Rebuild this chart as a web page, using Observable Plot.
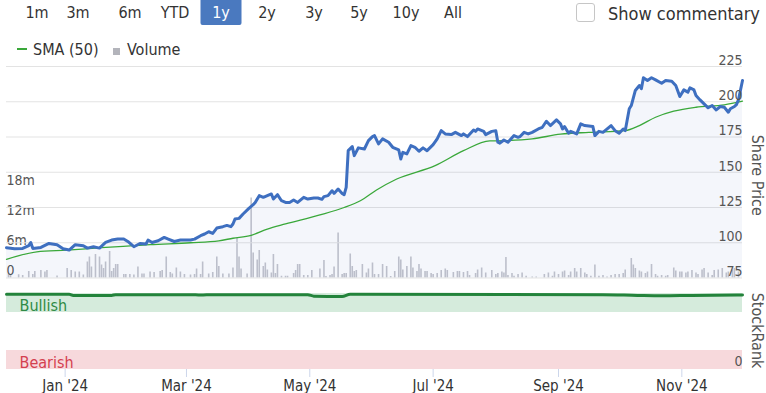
<!DOCTYPE html>
<html><head><meta charset="utf-8">
<script src="https://cdn.jsdelivr.net/npm/d3@7"></script>
<script src="https://cdn.jsdelivr.net/npm/@observablehq/plot@0.6"></script>
<style>
body{margin:0;background:#fff;font-family:"DejaVu Sans Condensed","DejaVu Sans",sans-serif;font-stretch:condensed;}
#wrap{position:relative;width:766px;height:393px;overflow:hidden;}
.btn{position:absolute;top:0;height:25px;line-height:25px;font-size:16px;color:#333;text-align:center;transform:translateX(-50%);white-space:nowrap;}
.btn.sel{background:#4a79bf;color:#fff;width:41px;border-radius:0 0 2px 2px;}
.layer{position:absolute;left:0;}
#chk{position:absolute;left:576px;top:3px;width:19px;height:19px;border:1px solid #c6c6c6;border-radius:3px;box-sizing:border-box;}
#comm{position:absolute;left:608px;top:3px;line-height:22px;font-size:18px;color:#333;white-space:nowrap;}
.leg{position:absolute;top:40px;line-height:20px;font-size:16px;color:#333;white-space:nowrap;}
</style></head><body>
<div id="wrap">
  <div id="buttons"></div>
  <div id="chk"></div>
  <div id="comm"></div>
  <div id="legLine" style="position:absolute;left:17px;top:48px;width:10px;height:2px;background:#3aa83a"></div>
  <div class="leg" id="legSma" style="left:33px"></div>
  <div id="legSq" style="position:absolute;left:113px;top:48px;width:7px;height:7px;background:#b3b4bb"></div>
  <div class="leg" id="legVol" style="left:127px"></div>
  <div class="layer" id="volLayer" style="top:0"></div>
  <div class="layer" id="priceLayer" style="top:0"></div>
  <div class="layer" id="rankLayer" style="top:280px"></div>
</div>
<script>
// ---------- data ----------
const rangeButtons = ["1m","3m","6m","YTD","1y","2y","3y","5y","10y","All"];
const selectedRange = "1y";
const commentaryLabel = "Show commentary";
const smaLabel = "SMA (50)";
const volumeLabel = "Volume";
const priceAxisLabel = "Share Price";
const rankAxisLabel = "StockRank";

const xStart = "2023-12-03", xEnd = "2024-12-01";

const priceDates = ["2023-12-03","2023-12-07","2023-12-11","2023-12-14","2023-12-15","2023-12-16","2023-12-20","2023-12-24","2023-12-28","2023-12-31",
"2024-01-03","2024-01-06","2024-01-10","2024-01-12","2024-01-15","2024-01-18","2024-01-21","2024-01-24","2024-01-27","2024-01-30",
"2024-02-01","2024-02-04","2024-02-07","2024-02-10","2024-02-11","2024-02-13","2024-02-16","2024-02-19","2024-02-21","2024-02-24","2024-02-27",
"2024-03-03","2024-03-05","2024-03-08","2024-03-10","2024-03-12","2024-03-14","2024-03-16","2024-03-19","2024-03-21","2024-03-23","2024-03-24","2024-03-25","2024-03-27","2024-03-29",
"2024-04-01","2024-04-03","2024-04-04","2024-04-06","2024-04-08","2024-04-10","2024-04-12","2024-04-13","2024-04-15","2024-04-17","2024-04-19","2024-04-21","2024-04-23","2024-04-25","2024-04-28","2024-04-30",
"2024-05-03","2024-05-05","2024-05-07","2024-05-08","2024-05-10","2024-05-12","2024-05-13","2024-05-15","2024-05-17","2024-05-18","2024-05-19","2024-05-20","2024-05-22","2024-05-23","2024-05-25","2024-05-28","2024-05-30",
"2024-06-01","2024-06-02","2024-06-04","2024-06-06","2024-06-09","2024-06-11","2024-06-14","2024-06-15","2024-06-16","2024-06-18","2024-06-20","2024-06-22","2024-06-24","2024-06-26","2024-06-28",
"2024-07-01","2024-07-03","2024-07-05","2024-07-07","2024-07-10","2024-07-12","2024-07-15","2024-07-16","2024-07-18","2024-07-21","2024-07-22","2024-07-23","2024-07-26","2024-07-27","2024-07-30",
"2024-08-01","2024-08-02","2024-08-03","2024-08-05","2024-08-07","2024-08-08","2024-08-10","2024-08-12","2024-08-13","2024-08-15","2024-08-17","2024-08-19","2024-08-22","2024-08-24","2024-08-26","2024-08-28","2024-08-31",
"2024-09-02","2024-09-03","2024-09-04","2024-09-06","2024-09-07","2024-09-10","2024-09-12","2024-09-14","2024-09-18","2024-09-19","2024-09-21","2024-09-23","2024-09-27","2024-09-29",
"2024-10-01","2024-10-03","2024-10-04","2024-10-06","2024-10-07","2024-10-09","2024-10-11","2024-10-12","2024-10-13","2024-10-15","2024-10-17","2024-10-19","2024-10-22","2024-10-24","2024-10-27","2024-10-29","2024-10-31",
"2024-11-02","2024-11-04","2024-11-05","2024-11-07","2024-11-08","2024-11-10","2024-11-12","2024-11-14","2024-11-16","2024-11-18","2024-11-20","2024-11-22","2024-11-24","2024-11-25","2024-11-27","2024-11-28","2024-11-29","2024-12-01"];
const priceValues = [96.5,95.8,96.0,98.0,100.2,96.0,96.7,99.5,98.6,95.8,
94.8,98.6,97.9,96.2,97.2,96.2,100.2,101.9,102.6,102.6,
100.9,97.2,99.5,99.1,101.9,100.2,101.4,103.8,102.6,100.9,101.9,
101.9,102.6,105.0,106.2,107.8,106.6,110.4,111.4,112.3,111.4,113.3,116.8,117.3,120.4,
124.6,127.0,128.6,133.4,132.2,133.4,134.6,131.0,134.1,129.8,128.6,128.6,130.3,128.6,132.2,131.0,
131.7,131.7,130.8,132.7,133.4,136.9,135.0,138.1,135.0,134.1,139.3,165.3,168.2,161.8,167.3,166.5,172.4,
175.3,176.0,170.1,173.7,171.3,167.7,165.8,159.4,164.1,163.0,168.9,167.7,164.9,167.3,165.3,
169.6,173.7,179.5,177.2,176.7,178.3,176.0,177.2,175.3,180.0,179.0,180.7,179.0,176.7,179.0,
179.5,171.3,170.6,172.9,171.3,172.9,176.0,174.8,175.3,178.3,177.2,178.3,180.7,181.9,186.2,183.1,187.1,
184.3,180.7,182.4,177.7,179.0,177.2,184.3,183.1,182.4,176.0,179.0,178.3,183.1,179.5,
177.7,180.7,179.5,195.0,197.3,208.0,211.5,209.2,217.0,215.1,217.0,215.5,213.1,215.1,214.6,211.5,203.7,
208.4,206.8,209.9,208.4,204.4,201.3,198.5,195.7,197.3,194.2,196.6,196.1,192.6,195.0,196.6,198.0,201.3,215.1];

const smaDates = ["2023-12-03","2023-12-18","2024-01-02","2024-01-19","2024-02-04","2024-02-12","2024-03-03","2024-03-17","2024-03-24","2024-04-02","2024-04-10","2024-04-19","2024-05-06","2024-05-18","2024-05-26","2024-06-03","2024-06-13","2024-07-02","2024-07-16","2024-07-29","2024-08-05","2024-08-19","2024-09-02","2024-09-16","2024-10-04","2024-10-11","2024-10-19","2024-10-28","2024-11-08","2024-11-22","2024-12-01"];
const smaValues = [88.2,93.6,94.8,96.5,97.9,98.6,100.0,101.4,103.2,105.3,109.7,113.3,119.7,125.0,129.8,137.4,145.2,154.7,165.3,172.2,172.4,173.7,177.0,178.3,179.5,183.1,189.0,193.3,196.1,197.8,200.4];

const volDates = ["2023-12-04","2023-12-05","2023-12-09","2023-12-11","2023-12-14","2023-12-16","2023-12-17","2023-12-20","2023-12-22","2023-12-23","2023-12-28",
"2024-01-02","2024-01-04","2024-01-06","2024-01-08","2024-01-10","2024-01-12","2024-01-13","2024-01-14","2024-01-16","2024-01-18","2024-01-19","2024-01-20","2024-01-21","2024-01-23","2024-01-24","2024-01-25","2024-01-26","2024-01-27","2024-01-30","2024-01-31",
"2024-02-02","2024-02-04","2024-02-06","2024-02-08","2024-02-09","2024-02-12","2024-02-14","2024-02-17","2024-02-18","2024-02-20","2024-02-22","2024-02-23","2024-02-25","2024-02-27","2024-02-29",
"2024-03-03","2024-03-05","2024-03-06","2024-03-08","2024-03-09","2024-03-12","2024-03-14","2024-03-16","2024-03-17","2024-03-19","2024-03-22","2024-03-24","2024-03-26","2024-03-27","2024-03-28","2024-03-31",
"2024-04-02","2024-04-03","2024-04-05","2024-04-06","2024-04-08","2024-04-09","2024-04-10","2024-04-12","2024-04-13","2024-04-14","2024-04-15","2024-04-17","2024-04-19","2024-04-20","2024-04-23","2024-04-24","2024-04-25","2024-04-26","2024-04-28","2024-04-30",
"2024-05-02","2024-05-06","2024-05-08","2024-05-09","2024-05-11","2024-05-12","2024-05-13","2024-05-15","2024-05-17","2024-05-18","2024-05-19","2024-05-21","2024-05-22","2024-05-23","2024-05-24","2024-05-27","2024-05-29","2024-05-30",
"2024-06-01","2024-06-02","2024-06-04","2024-06-06","2024-06-08","2024-06-10","2024-06-12","2024-06-14","2024-06-15","2024-06-16","2024-06-18","2024-06-20","2024-06-21","2024-06-23","2024-06-24","2024-06-25","2024-06-27","2024-06-28","2024-06-30",
"2024-07-01","2024-07-03","2024-07-05","2024-07-07","2024-07-08","2024-07-11","2024-07-13","2024-07-14","2024-07-16","2024-07-18","2024-07-19","2024-07-22","2024-07-23","2024-07-25","2024-07-27","2024-07-30",
"2024-08-01","2024-08-02","2024-08-04","2024-08-05","2024-08-06","2024-08-07","2024-08-09","2024-08-10","2024-08-12","2024-08-14","2024-08-16","2024-08-19","2024-08-21","2024-08-25","2024-08-27","2024-08-29","2024-08-30",
"2024-09-01","2024-09-03","2024-09-04","2024-09-06","2024-09-07","2024-09-09","2024-09-10","2024-09-12","2024-09-14","2024-09-15","2024-09-17","2024-09-19","2024-09-21","2024-09-23","2024-09-25","2024-09-27","2024-09-29",
"2024-10-01","2024-10-03","2024-10-04","2024-10-07","2024-10-08","2024-10-09","2024-10-11","2024-10-12","2024-10-14","2024-10-15","2024-10-17","2024-10-19","2024-10-20","2024-10-22","2024-10-24","2024-10-25","2024-10-28","2024-10-29","2024-10-31",
"2024-11-01","2024-11-03","2024-11-04","2024-11-06","2024-11-08","2024-11-09","2024-11-11","2024-11-12","2024-11-14","2024-11-16","2024-11-17","2024-11-19","2024-11-21","2024-11-23","2024-11-24","2024-11-26","2024-11-27","2024-11-29"];
const volValues = [0.8,0.6,0.65,0.5,1.3,0.7,1.3,1.5,1.2,1.5,0.4,
1.9,1.5,1.2,1.2,0.6,3.2,4.2,2.2,4.7,4.2,2.6,1.9,3.2,5.3,1.3,1.9,2.7,2.7,0.7,0.7,
0.7,0.6,2.2,0.8,0.8,1.2,1.1,1.3,1.5,4.2,1.1,0.8,2.0,1.2,0.7,
0.6,0.7,1.8,0.7,3.2,0.8,1.1,4.2,2.3,0.8,0.8,2.0,7.9,4.2,1.8,0.8,
16.0,5.0,3.6,5.5,2.3,3.0,1.6,1.0,4.7,0.9,2.7,0.35,0.35,0.35,0.9,1.5,2.7,2.7,0.5,0.5,
1.5,1.8,3.5,0.3,0.5,0.7,2.2,9.0,0.7,0.9,0.9,4.8,2.3,1.3,1.5,2.7,1.0,1.8,
3.0,0.7,0.7,2.7,2.3,0.3,1.3,4.2,3.6,1.6,2.3,4.2,2.0,1.3,2.7,1.8,1.3,1.3,0.9,
0.7,0.9,1.5,1.8,1.5,1.1,1.3,1.3,1.1,1.3,0.5,0.9,1.6,2.0,1.0,1.5,
0.7,0.9,1.2,1.0,4.1,0.5,0.9,0.35,0.7,1.0,0.35,0.2,0.2,0.7,1.0,0.35,1.2,
0.7,1.2,1.4,0.5,1.2,1.9,1.2,1.9,1.0,0.7,0.35,2.6,0.35,0.5,0.2,0.5,0.7,
0.7,0.9,1.6,3.9,2.6,1.9,1.4,1.2,0.9,1.2,2.7,0.7,0.35,0.5,0.35,0.5,2.0,1.4,1.2,
1.2,1.0,1.2,1.5,1.0,0.7,1.6,1.9,1.0,0.5,1.5,1.6,1.9,1.0,1.2,1.6,1.9,1.2];

const rankDates = ["2023-12-03","2024-01-03","2024-01-05","2024-01-24","2024-01-26","2024-03-03","2024-03-08","2024-03-14","2024-04-30","2024-05-03","2024-05-17","2024-05-21","2024-09-23","2024-10-10","2024-10-22","2024-11-06","2024-12-01"];
const rankValues = [99,99,97.5,97.5,98.5,98.5,98,98.5,98.5,96.5,96,99,98.5,97.5,97,97.5,98];

const priceTicks = [75,100,125,150,175,200,225];
const volTicks = [0,6,12,18];
const volMax = 42.3;
const rankTicks = [0];
const bandLo = [75,0], bandHi = [100,25];
const bandLabels = ["Bullish","Bearish"];
const bandFills = ["#d5ebdc","#f7d9dc"];
const bandText = ["#2f8a45","#d4404f"];
const monthTicks = ["2024-01-01","2024-03-01","2024-05-01","2024-07-01","2024-09-01","2024-11-01"];

// ---------- header ----------
const btnCenters = [37,78,130,175,221,267,314,359,406,453];
const bc = document.getElementById("buttons");
rangeButtons.forEach((t,i)=>{
  const b=document.createElement("div");
  b.className="btn"+(t===selectedRange?" sel":"");
  b.style.left=btnCenters[i]+"px";
  b.textContent=t; bc.appendChild(b);
});
document.getElementById("comm").textContent=commentaryLabel;
document.getElementById("legSma").textContent=smaLabel;
document.getElementById("legVol").textContent=volumeLabel;

// ---------- charts ----------
const parse = d3.utcParse("%Y-%m-%d");
const xDomain = [parse(xStart), parse(xEnd)];
const priceData = priceDates.map((d,i)=>({date:parse(d), price:priceValues[i]}));
const smaData = smaDates.map((d,i)=>({date:parse(d), sma:smaValues[i]}));
const volData = volDates.map((d,i)=>({date:parse(d), vol:volValues[i]}));
const rankData = rankDates.map((d,i)=>({date:parse(d), rank:rankValues[i]}));
const bands = bandLabels.map((l,i)=>({label:l, lo:bandLo[i], hi:bandHi[i], fill:bandFills[i], color:bandText[i]}));
const font = '"DejaVu Sans Condensed","DejaVu Sans",sans-serif';
const common = {width:766, marginLeft:6, marginRight:24,
  style:{background:"transparent", fontFamily:font, overflow:"visible", color:"#555"}};

const volPlot = Plot.plot({
  ...common, height:290, marginTop:66, marginBottom:12.5,
  x:{type:"utc", domain:xDomain, axis:null, label:null},
  y:{domain:[0, volMax], axis:null, label:null},
  marks:[
    Plot.ruleX(volData, {x:"date", y1:0, y2:"vol", stroke:"#c5c6cd", strokeWidth:1.6}),
    Plot.axisY(volTicks, {anchor:"left", label:null, tickSize:0, tickPadding:0, textAnchor:"start", dy:-7, fontSize:14, color:"#555",
      tickFormat:d=>d===0?"0":d+"m"})
  ]
});
document.getElementById("volLayer").appendChild(volPlot);

const pricePlot = Plot.plot({
  ...common, height:290, marginTop:66, marginBottom:12.5,
  x:{type:"utc", domain:xDomain, axis:null, label:null},
  y:{domain:[priceTicks[0], priceTicks[priceTicks.length-1]], axis:null, label:null},
  marks:[
    Plot.gridY(priceTicks, {stroke:"#e3e3e3", strokeOpacity:1}),
    Plot.areaY(priceData, {x:"date", y1:priceTicks[0], y2:"price", fill:"#2050b0", fillOpacity:0.05}),
    Plot.lineY(smaData, {x:"date", y:"sma", stroke:"#3aa83a", strokeWidth:1.3, curve:"monotone-x"}),
    Plot.lineY(priceData, {x:"date", y:"price", stroke:"#3e6fc0", strokeWidth:3}),
    Plot.axisY(priceTicks, {anchor:"right", label:null, tickSize:0, tickPadding:0, textAnchor:"end", dy:-6, fontSize:14, color:"#555"}),
    Plot.text([priceAxisLabel], {text:d=>d, frameAnchor:"right", textAnchor:"middle", rotate:90, dx:15, dy:3, fontSize:16, fill:"#555"})
  ]
});
document.getElementById("priceLayer").appendChild(pricePlot);

const rankPlot = Plot.plot({
  ...common, height:113, marginTop:13, marginBottom:24,
  x:{type:"utc", domain:xDomain, label:null},
  y:{domain:[0,100], axis:null, label:null},
  marks:[
    Plot.rect(bands, {y1:"lo", y2:"hi", fill:"fill"}),
    Plot.lineY(rankData, {x:"date", y:"rank", stroke:"#23833b", strokeWidth:3, curve:"monotone-x"}),
    Plot.text(bands, {frameAnchor:"left", y:d=>(d.lo+d.hi)/2, text:"label", fill:"color", dx:13, dy:3, textAnchor:"start", fontSize:16}),
    Plot.axisY(rankTicks, {anchor:"right", label:null, tickSize:0, tickPadding:0, textAnchor:"end", dy:-8, fontSize:14, color:"#555"}),
    Plot.text([rankAxisLabel], {text:d=>d, frameAnchor:"right", textAnchor:"middle", rotate:90, dx:15, dy:-1, fontSize:16, fill:"#555"}),
    Plot.axisX(monthTicks.map(parse), {anchor:"bottom", label:null, tickSize:8, stroke:"#ccd6eb", color:"#333", fontSize:15,
      tickFormat:d3.utcFormat("%b '%y")})
  ]
});
document.getElementById("rankLayer").appendChild(rankPlot);
</script>
</body></html>
